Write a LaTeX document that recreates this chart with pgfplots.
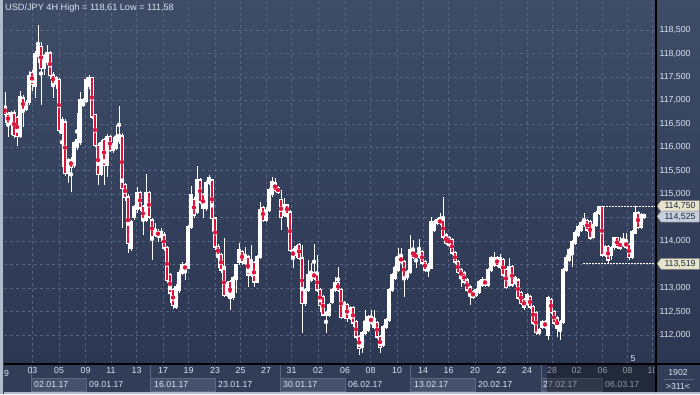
\documentclass[border=0pt]{standalone}
\usepackage{fontspec}
\setmainfont{Liberation Sans}
\usepackage{pgfplots}
\pgfplotsset{compat=1.18}
\usepackage{pgfplotstable}

\definecolor{bgtop}{RGB}{62,76,104}
\definecolor{bgbot}{RGB}{44,55,82}
\definecolor{gridc}{RGB}{86,100,130}
\definecolor{txt}{RGB}{222,228,238}
\definecolor{strip}{RGB}{50,61,88}
\definecolor{boxc}{RGB}{70,82,108}
\definecolor{boxl}{RGB}{92,104,130}
\definecolor{bearred}{RGB}{222,18,58}
\definecolor{beige}{RGB}{232,228,204}
\definecolor{bluegrey}{RGB}{200,208,222}
\definecolor{darktxt}{RGB}{30,40,62}
\definecolor{edge}{RGB}{176,188,204}
\newcommand\fs{\fontsize{8.8}{10}\selectfont}

\pgfplotstableread{
x o h l c
5 116.86 117.18 116.52 116.71
8 116.71 116.75 116.22 116.52
11 116.52 116.78 116.26 116.73
14 116.73 116.80 116.20 116.26
17 116.63 116.68 116.03 116.24
20 116.24 117.20 116.20 117.07
23 117.05 117.12 116.44 116.80
26 116.82 117.02 116.78 116.95
29 116.97 117.62 116.90 117.52
32 117.59 117.64 117.20 117.35
35 117.30 118.05 117.05 117.99
38 117.95 118.61 117.80 118.14
41 118.14 118.25 116.90 117.69
44 117.69 118.00 117.55 117.95
47 117.82 118.18 117.75 118.01
50 118.01 118.05 117.45 117.54
53 117.54 117.60 117.05 117.37
56 117.37 117.52 117.25 117.48
59 117.44 117.48 116.30 116.37
62 116.31 116.64 115.58 116.58
65 116.54 116.60 115.40 115.45
68 115.45 115.78 115.24 115.73
71 115.73 115.80 115.05 115.58
74 115.62 116.14 115.55 116.09
77 116.01 116.73 115.95 116.16
80 116.10 117.18 116.05 117.01
83 116.90 117.05 116.85 117.01
86 116.99 117.50 116.95 117.44
89 117.30 117.55 117.25 117.48
92 117.48 117.50 116.60 116.65
95 116.69 116.72 116.00 116.05
98 116.03 116.10 115.20 115.43
101 115.43 116.15 115.38 116.09
104 116.16 116.20 115.20 115.62
107 115.62 116.28 115.37 116.22
110 116.22 116.26 115.90 115.94
113 115.94 116.22 115.88 116.05
116 115.99 116.48 115.94 116.22
119 116.12 116.88 116.08 116.26
122 116.24 116.30 114.28 115.13
125 115.20 115.25 114.85 114.94
128 114.94 115.00 113.75 113.96
131 113.86 114.45 113.80 114.41
134 114.52 114.78 114.45 114.73
137 114.67 115.16 114.60 115.03
140 115.03 115.08 114.65 114.71
143 114.73 114.78 114.13 114.45
146 114.45 115.43 114.40 115.03
149 115.03 115.06 114.47 114.52
152 114.45 114.50 113.60 114.09
155 114.13 114.39 114.08 114.20
158 114.20 114.26 113.98 114.12
161 114.09 114.28 114.00 114.20
164 114.13 114.20 113.80 113.86
167 113.86 113.90 113.10 113.17
170 113.28 113.32 112.68 112.90
173 112.96 113.00 112.55 112.64
176 112.60 113.08 112.55 113.02
179 112.96 113.38 112.90 113.32
182 113.32 113.55 113.28 113.49
185 113.49 113.54 113.17 113.39
188 113.43 114.35 113.40 114.30
191 114.30 115.18 114.25 114.99
194 114.88 114.95 114.50 114.56
197 114.62 115.60 114.58 115.30
200 115.30 115.35 114.80 114.84
203 114.99 115.02 114.50 114.71
206 114.71 115.28 114.65 115.24
209 115.24 115.41 115.20 115.35
212 115.30 115.33 114.20 114.49
215 114.49 114.52 113.82 113.88
218 113.88 113.93 113.43 113.71
221 113.71 113.75 113.33 113.39
224 113.39 114.07 112.80 112.85
227 112.85 113.15 112.80 113.11
230 113.13 113.18 112.53 112.79
233 112.81 113.26 112.75 113.22
236 113.22 113.52 112.90 113.49
239 113.56 113.96 113.50 113.81
242 113.77 113.82 113.50 113.56
245 113.54 113.88 113.50 113.66
248 113.66 113.70 113.02 113.28
251 113.28 113.92 113.24 113.54
254 113.54 113.58 113.02 113.13
257 113.13 113.70 113.10 113.66
260 113.66 114.84 113.62 114.67
263 114.71 114.76 114.40 114.45
266 114.45 114.72 114.40 114.67
269 114.67 115.14 114.62 115.09
272 114.99 115.37 114.95 115.26
275 115.24 115.35 115.05 115.09
278 115.13 115.18 115.00 115.05
281 114.88 115.09 114.24 114.50
284 114.56 114.92 114.52 114.77
287 114.77 114.80 114.30 114.60
290 114.62 114.66 113.77 113.81
293 113.81 113.86 113.43 113.66
296 113.71 113.92 113.65 113.88
299 113.92 113.96 113.60 113.64
302 113.64 113.92 112.04 112.68
305 112.68 113.00 112.62 112.96
308 112.96 113.60 112.92 113.28
311 113.17 113.54 113.12 113.32
314 113.32 113.94 113.18 113.22
317 113.28 113.71 112.92 112.96
320 112.96 113.00 112.49 112.64
323 112.81 112.85 112.40 112.43
326 112.43 112.52 112.04 112.47
329 112.43 112.68 112.38 112.64
332 112.70 113.00 112.65 112.96
335 112.96 113.24 112.92 113.11
338 113.11 113.45 112.92 112.96
341 112.96 113.00 112.34 112.38
344 112.38 112.72 112.34 112.68
347 112.64 112.68 112.28 112.36
350 112.36 112.62 112.32 112.58
353 112.58 112.62 112.17 112.26
356 112.28 112.32 111.92 111.96
359 111.96 112.00 111.58 111.72
362 111.74 112.08 111.62 112.04
365 112.04 112.53 112.00 112.28
368 112.11 112.42 112.06 112.38
371 112.38 112.53 112.22 112.26
374 112.17 112.53 112.13 112.28
377 112.26 112.30 111.92 111.96
380 111.96 112.00 111.62 111.74
383 111.79 112.21 111.75 112.17
386 112.17 112.36 112.13 112.32
389 112.32 113.00 112.28 112.96
392 112.96 113.32 112.92 113.28
395 113.22 113.66 113.18 113.39
398 113.39 113.86 113.35 113.66
401 113.66 113.86 113.52 113.56
404 113.56 113.60 112.81 113.22
407 113.22 113.38 113.18 113.34
410 113.34 114.13 113.30 113.81
413 113.81 114.03 113.62 113.66
416 113.71 113.75 113.43 113.66
419 113.66 114.05 113.62 113.77
422 113.77 113.82 113.50 113.54
425 113.56 113.60 113.35 113.39
428 113.39 113.54 113.24 113.49
431 113.43 114.52 113.40 114.41
434 114.24 114.45 114.20 114.41
437 114.39 114.50 114.35 114.45
440 114.45 114.60 114.35 114.39
443 114.45 114.94 114.05 114.09
446 114.13 114.18 113.92 113.96
449 114.07 114.10 113.88 113.92
452 114.03 114.07 113.70 113.75
455 113.75 113.80 113.52 113.56
458 113.56 113.60 113.30 113.34
461 113.39 113.43 113.02 113.22
464 113.32 113.36 113.09 113.13
467 113.17 113.22 112.92 112.96
470 113.02 113.06 112.64 112.85
473 112.92 112.96 112.77 112.81
476 112.85 113.00 112.81 112.96
479 112.92 113.17 112.88 113.13
482 113.07 113.24 113.02 113.17
485 113.17 113.20 113.02 113.07
488 113.07 113.43 113.02 113.39
491 113.39 113.68 113.35 113.64
494 113.49 113.77 113.45 113.64
497 113.64 113.68 113.45 113.49
500 113.45 113.73 113.41 113.64
503 113.60 113.64 113.24 113.28
506 113.39 113.43 112.98 113.02
509 113.07 113.64 113.02 113.45
512 113.45 113.49 113.02 113.07
515 113.11 113.26 113.07 113.22
518 113.17 113.22 112.75 112.79
521 112.90 112.94 112.64 112.68
524 112.75 112.79 112.53 112.60
527 112.66 112.90 112.62 112.85
530 112.81 112.85 112.56 112.60
533 112.60 112.64 112.21 112.26
536 112.47 112.51 112.00 112.06
539 112.04 112.15 112.00 112.11
542 112.17 112.32 112.13 112.28
545 112.28 112.32 112.13 112.17
548 112.00 112.83 111.89 112.79
551 112.75 112.79 112.45 112.49
554 112.49 112.53 112.21 112.26
557 112.36 112.40 111.96 112.15
560 112.15 112.32 111.89 112.28
563 112.28 113.43 112.24 113.39
566 113.39 113.71 113.35 113.64
569 113.60 113.86 113.56 113.81
572 113.77 114.03 113.45 113.98
575 113.96 114.24 113.92 114.18
578 114.13 114.35 114.09 114.30
581 114.24 114.43 114.20 114.39
584 114.35 114.60 114.30 114.45
587 114.43 114.47 114.20 114.24
590 114.41 114.45 114.03 114.07
593 114.09 114.60 114.05 114.35
596 114.35 114.64 114.30 114.60
599 114.60 114.75 114.56 114.73
602 114.73 114.75 113.66 113.71
605 113.71 113.92 113.66 113.88
608 113.88 113.92 113.52 113.60
611 113.71 113.90 113.60 113.86
614 113.86 114.09 113.82 114.07
617 114.07 114.09 113.84 113.88
620 113.98 114.09 113.82 113.86
623 113.92 114.17 113.88 113.98
626 113.98 114.17 113.84 113.88
629 113.92 113.96 113.60 113.66
632 113.66 114.24 113.62 114.20
635 114.18 114.75 114.15 114.60
638 114.60 114.64 114.26 114.30
641 114.30 114.60 114.26 114.56
644 114.56 114.58 114.48 114.52
}\candles

\begin{document}
\begin{tikzpicture}[x=1bp,y=1bp]
\useasboundingbox (0,0) rectangle (700,394);
\fill[strip] (0,0) rectangle (700,30);
\shade[top color=bgtop, bottom color=bgbot] (4,30) rectangle (700,394);
\foreach \a/\b in {31/86,150/215,280/345,410/475,541/602}{
  \fill[boxc] (\a,2.5) rectangle (\b,16);
  \draw[boxl, line width=0.6bp] (\a,2.5) rectangle (\b,16);
  \draw[boxl, line width=0.6bp] (\a,16) -- (\a,30);
}
\begin{axis}[
  at={(4bp,30bp)}, anchor=south west,
  scale only axis, width=652bp, height=364bp,
  xmin=4, xmax=656, ymin=111.382, ymax=119.143,
  axis line style={draw=none},
  major tick length=0pt,
  xtick={32.5,59,85.5,111,136.5,163,188.5,215,240.5,266,291.5,318,345,370.5,397,423,448.5,475,501.5,527,552,576.5,602.5,627.5,652.5},
  xticklabels={03,05,09,11,13,17,19,23,25,27,31,02,06,08,10,14,16,20,22,24,28,02,06,08,10},
  ytick={112,112.5,113,113.5,114,114.5,115,115.5,116,116.5,117,117.5,118,118.5},
  yticklabels={{112,000},{112,500},{113,000},{},{114,000},{},{115,000},{115,500},{116,000},{116,500},{117,000},{117,500},{118,000},{118,500}},
  yticklabel pos=right,
  grid=major,
  major grid style={gridc, dash pattern=on 3bp off 3bp, line width=0.7bp},
  ticklabel style={font=\fs, text=txt},
]
% wicks
\addplot[white, only marks, mark=none,
  error bars/.cd, y dir=both, y explicit, error mark=none,
  error bar style={white, solid, line width=1bp}]
  table[x=x, y expr={(\thisrow{h}+\thisrow{l})/2}, y error expr={(\thisrow{h}-\thisrow{l})/2}] {\candles};
% bodies
\addplot[white, only marks, mark=none,
  error bars/.cd, y dir=both, y explicit, error mark=none,
  error bar style={white, solid, line width=3.1bp}]
  table[x=x, y expr={(\thisrow{o}+\thisrow{c})/2}, y error expr={abs(\thisrow{o}-\thisrow{c})/2+0.016}] {\candles};
% bearish inner
\addplot[bearred, only marks, mark=none,
  error bars/.cd, y dir=both, y explicit, error mark=none,
  error bar style={bearred, solid, line width=1.3bp}]
  table[x=x, y expr={(\thisrow{o}-\thisrow{c})>0.04 ? (\thisrow{o}+\thisrow{c})/2 : 0}, y error expr={(\thisrow{o}-\thisrow{c})/2-0.01}] {\candles};
% high / low reference lines
\addplot[white, dash pattern=on 1.5bp off 1.5bp, line width=0.8bp] coordinates {(597,114.75) (656,114.75)};
\addplot[white, dash pattern=on 1.5bp off 1.5bp, line width=0.8bp] coordinates {(583,113.519) (656,113.519)};
\coordinate (b1) at (axis cs:656,114.75);
\coordinate (b2) at (axis cs:656,114.525);
\coordinate (b3) at (axis cs:656,113.519);
\end{axis}
% frame lines
\draw[black, line width=1.3bp] (3.5,30) -- (700,30);
\draw[black, line width=1.3bp] (656,0) -- (656,394);
\fill[edge] (0,0) rectangle (3,394);
\fill[edge] (0,0) rectangle (700,2);
\draw[black!75, line width=0.8bp] (3.4,0) -- (3.4,394);
% price boxes
\filldraw[fill=beige, draw=gray, line width=0.5bp] (b1) ++(1,0) -- ++(4,5.5) -- ++(38.5,0) -- ++(0,-11) -- ++(-38.5,0) -- cycle;
\node[font=\fs, text=darktxt, inner sep=0] at ([xshift=24bp]b1) {114,750};
\filldraw[fill=bluegrey, draw=gray, line width=0.5bp] (b2) ++(1,0) -- ++(4,5.5) -- ++(38.5,0) -- ++(0,-11) -- ++(-38.5,0) -- cycle;
\node[font=\fs, text=darktxt, inner sep=0] at ([xshift=24bp]b2) {114,525};
\filldraw[fill=beige, draw=gray, line width=0.5bp] (b3) ++(1,0) -- ++(4,5.5) -- ++(38.5,0) -- ++(0,-11) -- ++(-38.5,0) -- cycle;
\node[font=\fs, text=darktxt, inner sep=0] at ([xshift=24bp]b3) {113,519};
% texts
\node[anchor=west, font=\fontsize{9.2}{10}\selectfont, text=txt, inner sep=0] at (5,386) {USD/JPY 4H High = 118,61 Low = 111,58};
\node[font=\fs, text=txt, inner sep=0] at (6.5,21) {9};
\foreach \x/\t in {34/02.01.17,89/09.01.17,154/16.01.17,218/23.01.17,283/30.01.17,348/06.02.17,414/13.02.17,478/20.02.17,543/27.02.17,605/06.03.17}
  \node[anchor=west, font=\fs, text=txt, inner sep=0] at (\x,10) {\t};
\node[font=\fs, text=txt, inner sep=0] at (633,35) {5};
\fill[black, opacity=0.32] (547,2) rectangle (655.3,29.3);
\fill[strip] (656.7,2) rectangle (700,29.3);
\node[font=\fs, text=txt, inner sep=0] at (678,22) {1902};
\draw[boxl, line width=0.6bp] (664,15) -- (694,15);
\node[font=\fs, text=txt, inner sep=0] at (678,7.5) {>311<};
\end{tikzpicture}
\end{document}
